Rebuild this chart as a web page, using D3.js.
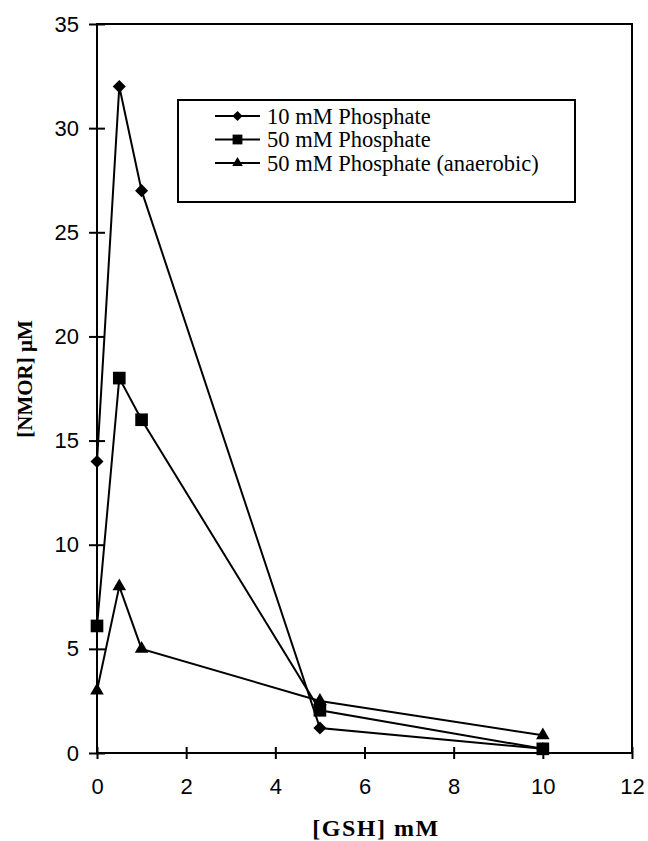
<!DOCTYPE html>
<html>
<head>
<meta charset="utf-8">
<script src="https://cdn.jsdelivr.net/npm/d3@7"></script>
<style>
  body { margin: 0; background: #fff; overflow: hidden; }
  svg { display: block; }
</style>
</head>
<body>
<div id="chart"></div>
<script>
// data
const gsh = [0, 0.5, 1, 5, 10];
const phos10 = [14, 32, 27, 1.2, 0.2];
const phos50 = [6.1, 18, 16, 2.05, 0.2];
const phos50anaerobic = [3, 8, 5, 2.5, 0.85];
const seriesNames = ["10 mM Phosphate", "50 mM Phosphate", "50 mM Phosphate (anaerobic)"];
const xTicks = [0, 2, 4, 6, 8, 10, 12];
const yTicks = [0, 5, 10, 15, 20, 25, 30, 35];

const width = 648;
const height = 841;
const margin = {top: 24, right: 16, bottom: 88, left: 97};
const innerWidth = width - margin.left - margin.right;
const innerHeight = height - margin.top - margin.bottom;

const x = d3.scaleLinear().domain([0, 12]).range([0, innerWidth]);
const y = d3.scaleLinear().domain([0, 35]).range([innerHeight, 0]);

const svg = d3.select("#chart").append("svg")
  .attr("width", width)
  .attr("height", height);

const g = svg.append("g")
  .attr("transform", `translate(${margin.left}, ${margin.top})`);

// frame
g.append("rect")
  .attr("width", innerWidth)
  .attr("height", innerHeight)
  .attr("fill", "none")
  .attr("stroke", "#000")
  .attr("stroke-width", 2);

// axes, ticks cross the line
const xAxis = d3.axisBottom(x).tickValues(xTicks).tickSize(12).tickSizeOuter(0).tickPadding(16);
const yAxis = d3.axisLeft(y).tickValues(yTicks).tickSize(16).tickSizeOuter(0).tickPadding(10);

const gx = g.append("g")
  .attr("transform", `translate(0, ${innerHeight - 6})`)
  .call(xAxis);
gx.select(".domain").remove();

const gy = g.append("g")
  .attr("transform", `translate(8, 0)`)
  .call(yAxis);
gy.select(".domain").remove();

[gx, gy].forEach(a => {
  a.selectAll("line").attr("stroke", "#000").attr("stroke-width", 2);
  a.selectAll("text")
    .attr("fill", "#000")
    .style("font-family", "Arial, 'Liberation Sans', sans-serif")
    .style("font-size", "22px");
});
gx.selectAll("text").attr("dy", "0.85em");

// series
const series = [
  {name: seriesNames[0], values: phos10, symbol: d3.symbolSquare, size: 85, rot: 45},
  {name: seriesNames[1], values: phos50, symbol: d3.symbolSquare, size: 160, rot: 0},
  {name: seriesNames[2], values: phos50anaerobic, symbol: d3.symbolTriangle, size: 80, rot: 0}
];

const line = d3.line()
  .x(d => x(d[0]))
  .y(d => y(d[1]));

series.forEach(s => {
  const pts = gsh.map((v, i) => [v, s.values[i]]);
  g.append("path")
    .datum(pts)
    .attr("d", line)
    .attr("fill", "none")
    .attr("stroke", "#000")
    .attr("stroke-width", 2);
  g.selectAll(null)
    .data(pts)
    .join("path")
    .attr("d", d3.symbol().type(s.symbol).size(s.size))
    .attr("transform", d => `translate(${x(d[0])}, ${y(d[1])}) rotate(${s.rot})`)
    .attr("fill", "#000");
});

// legend
const legend = svg.append("g").attr("transform", "translate(178, 100)");
legend.append("rect")
  .attr("width", 397)
  .attr("height", 102)
  .attr("fill", "#fff")
  .attr("stroke", "#000")
  .attr("stroke-width", 2);

series.forEach((s, i) => {
  const row = legend.append("g").attr("transform", `translate(0, ${16 + i * 23.5})`);
  row.append("line")
    .attr("x1", 37).attr("x2", 82)
    .attr("stroke", "#000").attr("stroke-width", 2);
  row.append("path")
    .attr("d", d3.symbol().type(s.symbol).size(s.size * 0.6))
    .attr("transform", `translate(59.5, 0) rotate(${s.rot})`)
    .attr("fill", "#000");
  row.append("text")
    .attr("x", 89)
    .attr("dy", "0.35em")
    .style("font-family", "'Liberation Serif', 'Times New Roman', serif")
    .style("font-size", "22.5px")
    .text(s.name);
});

// axis titles
svg.append("text")
  .attr("x", 376)
  .attr("y", 836)
  .attr("text-anchor", "middle")
  .style("font-family", "'Liberation Serif', 'Times New Roman', serif")
  .style("font-weight", "bold")
  .style("font-size", "24px")
  .style("letter-spacing", "1.5px")
  .text("[GSH] mM");

svg.append("text")
  .attr("transform", "translate(32, 379) rotate(-90)")
  .attr("text-anchor", "middle")
  .style("font-family", "'Liberation Serif', 'Times New Roman', serif")
  .style("font-weight", "bold")
  .style("font-size", "21px")
  .text("[NMOR] μM");
</script>
</body>
</html>
